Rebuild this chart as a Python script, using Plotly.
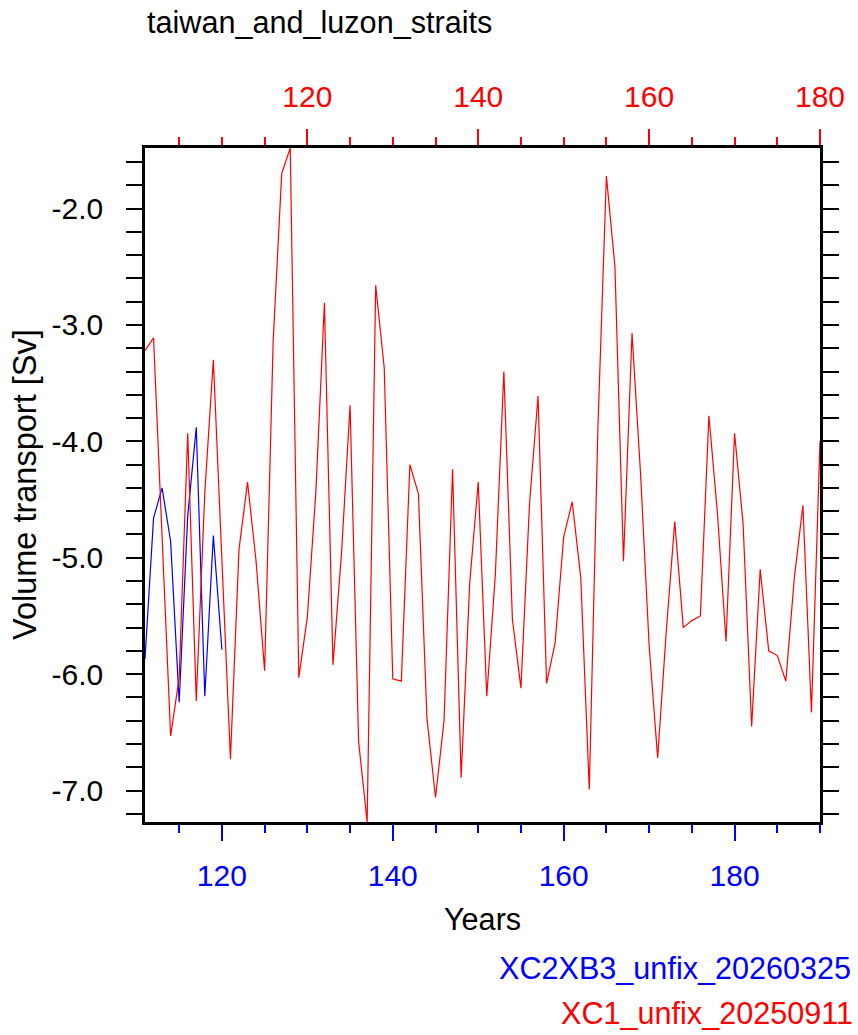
import plotly.graph_objects as go

# ---- data ----
red_years = list(range(101, 181))
red_values = [
    -3.22, -3.11, -4.82, -6.53, -6.03, -3.93, -6.23, -4.44, -3.30, -4.96,
    -6.73, -4.93, -4.35, -5.03, -5.97, -3.14, -1.70, -1.48, -6.03, -5.51,
    -4.43, -2.81, -5.92, -4.96, -3.69, -6.58, -7.27, -2.66, -3.37, -6.04,
    -6.06, -4.20, -4.45, -6.38, -7.06, -6.40, -4.24, -6.89, -5.22, -4.35,
    -6.19, -5.15, -3.40, -5.53, -6.12, -4.54, -3.61, -6.08, -5.73, -4.82,
    -4.52, -5.17, -6.99, -3.90, -1.72, -2.50, -5.03, -3.07, -4.28, -5.75,
    -6.72, -5.64, -4.69, -5.60, -5.54, -5.50, -3.78, -4.62, -5.72, -3.93,
    -4.71, -6.45, -5.10, -5.80, -5.84, -6.06, -5.17, -4.55, -6.33, -4.00,
]
blue_years = list(range(111, 121))
blue_values = [-5.87, -4.66, -4.40, -4.86, -6.24, -4.64, -3.88, -6.19, -4.81, -5.79]

y_tickvals = [-7.0, -6.0, -5.0, -4.0, -3.0, -2.0]
y_ticktext = ["-7.0", "-6.0", "-5.0", "-4.0", "-3.0", "-2.0"]
x_tickvals = [120, 140, 160, 180]

title_text = "taiwan_and_luzon_straits"
blue_name = "XC2XB3_unfix_20260325"
red_name = "XC1_unfix_20250911"

FONT = "Liberation Sans, Arial, Helvetica, sans-serif"
BLUE = "#0000ff"
RED = "#ff0000"
TXT = 30.6
TICK = 30

ymin = min(min(red_values), min(blue_values))
ymax = max(max(red_values), max(blue_values))

fig = go.Figure()
fig.add_trace(go.Scatter(x=blue_years, y=blue_values, mode="lines",
                         line=dict(color=BLUE, width=1.2), xaxis="x", yaxis="y",
                         name=blue_name, showlegend=False))
fig.add_trace(go.Scatter(x=red_years, y=red_values, mode="lines",
                         line=dict(color=RED, width=1.2), xaxis="x2", yaxis="y",
                         name=red_name, showlegend=False))

fig.update_layout(
    width=858, height=1035,
    margin=dict(l=145, r=38, t=148, b=213),
    paper_bgcolor="white", plot_bgcolor="white",
    font=dict(family=FONT, color="black", size=TXT),
    xaxis=dict(
        range=[blue_years[0], blue_years[0] + (red_years[-1] - red_years[0])],
        tickvals=x_tickvals, ticks="outside", ticklen=16, tickwidth=2,
        tickcolor=BLUE, tickfont=dict(color=BLUE, size=TICK, family=FONT),
        minor=dict(dtick=5, tick0=0, ticks="outside", ticklen=8, tickwidth=2, tickcolor=BLUE),
        showgrid=False, zeroline=False, showline=True, linecolor="black", linewidth=2.5,
        ticklabelstandoff=9,
    ),
    xaxis2=dict(
        range=[red_years[0], red_years[-1]], overlaying="x", side="top",
        tickvals=x_tickvals, ticks="outside", ticklen=16, tickwidth=2,
        tickcolor=RED, tickfont=dict(color=RED, size=TICK, family=FONT),
        minor=dict(dtick=5, tick0=0, ticks="outside", ticklen=8, tickwidth=2, tickcolor=RED),
        showgrid=False, zeroline=False, showline=True, linecolor="black", linewidth=2.5,
        ticklabelstandoff=10,
    ),
    yaxis=dict(
        range=[ymin, ymax], tickvals=y_tickvals, ticktext=y_ticktext,
        ticks="outside", ticklen=16, tickwidth=2, tickcolor="black",
        minor=dict(dtick=0.2, tick0=0, ticks="outside", ticklen=8, tickwidth=2, tickcolor="black"),
        showgrid=False, zeroline=False, showline=True, linecolor="black", linewidth=2.5,
        mirror="allticks", ticklabelstandoff=17,
        tickfont=dict(size=TICK, family=FONT, color="black"),
    ),
    annotations=[
        dict(text=title_text, xref="paper", yref="paper", x=0.0, y=(822 - 22) / 674,
             xanchor="left", yanchor="middle", showarrow=False,
             font=dict(size=TXT, family=FONT, color="black")),
        dict(text="Volume transport [Sv]", xref="paper", yref="paper",
             x=(25 - 145) / 675, y=0.5, textangle=-90, xanchor="center", yanchor="middle",
             showarrow=False, font=dict(size=32.5, family=FONT, color="black")),
        dict(text="Years", xref="paper", yref="paper", x=0.5, y=(822 - 919) / 674,
             xanchor="center", yanchor="middle", showarrow=False,
             font=dict(size=TXT, family=FONT, color="black")),
        dict(text=blue_name, xref="paper", yref="paper", x=(853 - 145) / 675,
             y=(822 - 968) / 674, xanchor="right", yanchor="middle", showarrow=False,
             font=dict(size=TXT, family=FONT, color=BLUE)),
        dict(text=red_name, xref="paper", yref="paper", x=(855 - 145) / 675,
             y=(822 - 1013) / 674, xanchor="right", yanchor="middle", showarrow=False,
             font=dict(size=TXT, family=FONT, color=RED)),
    ],
)

fig.write_html("out.html")
